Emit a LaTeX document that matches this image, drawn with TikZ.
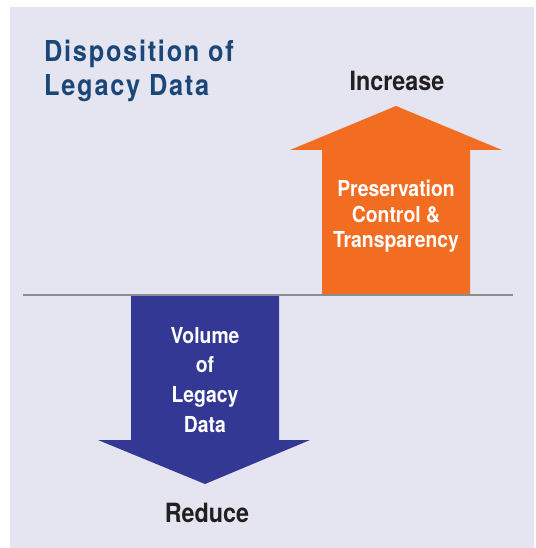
\documentclass[tikz,border=0pt]{standalone}
\usepackage{fontspec}
\setmainfont{TeX Gyre Heros}
\newfontfamily\condfont{TeX Gyre Heros}[FakeStretch=0.88]
\newfontfamily\titlefont{TeX Gyre Heros}[FakeStretch=0.88,LetterSpace=6]
\definecolor{bgcol}{HTML}{E5E5F1}
\definecolor{titlecol}{HTML}{1A4778}
\definecolor{orangecol}{HTML}{F26C22}
\definecolor{bluecol}{HTML}{333894}
\definecolor{darktext}{HTML}{231F20}
\definecolor{linecol}{HTML}{8C8C8C}
\tikzset{
  titletext/.style={inner sep=0pt, anchor=north west, align=left, text=titlecol,
    font=\titlefont\bfseries\fontsize{28.8}{34}\selectfont},
  labeltext/.style={inner sep=0pt, anchor=base, text=darktext,
    font=\condfont\bfseries\fontsize{26.5}{30}\selectfont},
  intext/.style={inner sep=0pt, anchor=north, align=center, text=white},
  axisline/.style={draw=linecol, line width=2pt},
}
\begin{document}
\begin{tikzpicture}[x=1pt,y=-1pt]
\useasboundingbox (0,0) rectangle (535,548);
\fill[bgcol] (10,7) rectangle (534,548);
% orange up arrow
\fill[orangecol] (322,295) -- (322,150) -- (290,150) -- (396,106) -- (502,150) -- (470,150) -- (470,295) -- cycle;
% blue down arrow
\fill[bluecol] (131,295) -- (131,440) -- (98,440) -- (205,484) -- (310,440) -- (279,440) -- (279,295) -- cycle;
% baseline
\coordinate (axisL) at (23,295);
\coordinate (axisR) at (513,295);
\draw[axisline] (axisL) -- (axisR);
% texts
\node[titletext] (title) at (44,40) {Disposition of\\Legacy Data};
\node[labeltext] (increase) at (397,91) {Increase};
\node[labeltext] (reduce) at (207,522) {Reduce};
\node[intext, font=\condfont\bfseries\fontsize{22}{25.5}\selectfont] (pres) at (396,180) {Preservation\\Control \&\\Transparency};
\node[intext, font=\condfont\bfseries\fontsize{22}{29.7}\selectfont] (vol) at (205,327) {Volume\\of\\Legacy\\Data};
\end{tikzpicture}
\end{document}
